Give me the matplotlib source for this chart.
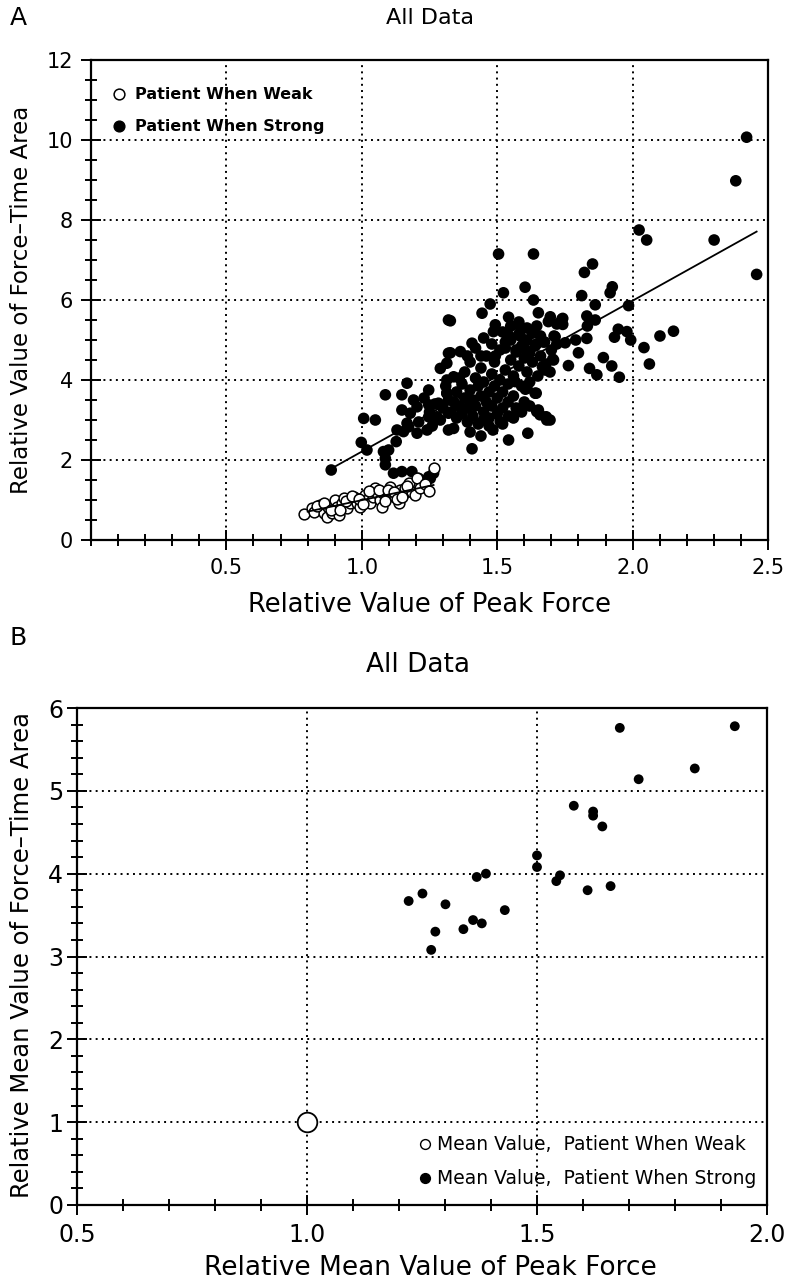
import numpy as np
import matplotlib
matplotlib.use("Agg")
import matplotlib.pyplot as plt
from matplotlib.ticker import MultipleLocator

# ---- panel A: all single trials -------------------------------------- #
weak_x = [0.785, 0.816, 0.825, 0.847, 0.859, 0.872, 0.877, 0.890, 0.902, 0.908,
          0.914, 0.927, 0.933, 0.945, 0.957, 0.970, 0.982, 0.994, 1.000, 1.013,
          1.019, 1.031, 1.043, 1.050, 1.056, 1.068, 1.074, 1.080, 1.093, 1.105,
          1.111, 1.123, 1.136, 1.142, 1.154, 1.160, 1.173, 1.185, 1.204, 1.265,
          0.835, 0.862, 0.885, 0.918, 0.940, 0.962, 0.988, 1.005, 1.025, 1.062,
          1.085, 1.098, 1.118, 1.130, 1.148, 1.168, 1.195, 1.215, 1.232, 1.248]
weak_y = [0.64, 0.79, 0.71, 0.88, 0.67, 0.57, 0.83, 0.67, 1.00, 0.83,
          0.63, 0.92, 1.04, 0.79, 0.92, 1.08, 0.92, 0.83, 1.04, 1.12,
          1.00, 0.92, 1.08, 1.29, 1.17, 1.00, 0.83, 1.17, 1.08, 1.33,
          1.17, 1.08, 0.92, 1.25, 1.17, 1.29, 1.42, 1.21, 1.54, 1.79,
          0.86, 0.93, 0.76, 0.74, 0.98, 1.10, 1.02, 0.90, 1.22, 1.26,
          0.98, 1.24, 1.20, 1.03, 1.08, 1.34, 1.12, 1.30, 1.40, 1.22]

strong_x = [0.887, 0.998, 1.019, 1.007, 1.050, 1.087, 1.080, 1.099, 1.087, 1.087,
            1.117, 1.148, 1.185, 1.247, 1.127, 1.130, 1.148, 1.167, 1.148, 1.179,
            1.191, 1.204, 1.154, 1.173, 1.204, 1.241, 1.247, 1.247, 1.278, 1.290,
            1.314, 1.320, 1.320, 1.314, 1.314, 1.283, 1.320, 1.320, 1.247, 1.167,
            1.210, 1.253, 1.265,
            1.505, 1.634, 1.523, 1.603, 1.634, 1.474, 1.444, 1.327, 1.542, 1.652,
            1.493, 1.486, 1.585, 1.646, 1.696, 1.720, 1.407, 1.327, 1.364, 1.542,
            1.585, 1.630, 1.660, 1.710, 1.493, 1.530, 1.570, 1.600, 1.645, 1.675,
            1.440,
            2.421, 2.381, 2.024, 2.052, 2.301, 2.458, 1.822, 1.852, 1.812, 1.917,
            1.925, 1.985, 1.862, 1.831, 1.862, 1.689, 1.739, 1.947, 1.979, 1.993,
            1.933, 2.101, 2.151, 2.042, 2.062, 1.951, 1.923, 1.892, 1.868, 1.841,
            1.763, 1.800, 1.790, 1.831, 1.751, 1.705, 1.677, 1.644, 1.652, 1.681,
            1.604, 1.742, 1.742, 1.833, 1.714, 1.708, 1.695, 1.695,
            1.407, 1.542, 1.613, 1.484, 1.542, 1.646, 1.658, 1.683, 1.640, 1.610,
            1.566, 1.677, 1.667, 1.339, 1.449, 1.511, 1.314, 1.339,
            1.33, 1.34, 1.35, 1.35, 1.36, 1.37, 1.37, 1.38, 1.38, 1.39,
            1.39, 1.40, 1.40, 1.41, 1.41, 1.42, 1.42, 1.43, 1.43, 1.44,
            1.44, 1.45, 1.45, 1.46, 1.46, 1.47, 1.47, 1.48, 1.48, 1.49,
            1.49, 1.50, 1.50, 1.51, 1.51, 1.52, 1.52, 1.53, 1.53, 1.54,
            1.54, 1.55, 1.55, 1.56, 1.56, 1.57, 1.57, 1.58, 1.58, 1.59,
            1.59, 1.60, 1.60, 1.61, 1.61, 1.62, 1.62, 1.63, 1.63, 1.64,
            1.65, 1.66, 1.67, 1.68, 1.70, 1.72, 1.36, 1.39, 1.42, 1.45,
            1.48, 1.52, 1.55, 1.58, 1.61, 1.40, 1.44, 1.47, 1.52, 1.56,
            1.59, 1.62, 1.32, 1.31, 1.30, 1.29, 1.27, 1.25, 1.23, 1.21,
            1.26]
strong_y = [1.75, 2.44, 2.25, 3.04, 3.00, 3.63, 2.21, 2.25, 2.04, 1.88,
            1.67, 1.71, 1.71, 1.58, 2.46, 2.75, 3.63, 3.92, 3.25, 3.17,
            3.50, 3.33, 2.71, 2.83, 2.67, 2.75, 3.75, 3.38, 3.08, 4.29,
            4.42, 4.67, 5.50, 3.67, 4.00, 3.42, 3.17, 2.75, 3.08, 2.92,
            1.54, 1.54, 1.67,
            7.15, 7.15, 6.18, 6.32, 6.00, 5.90, 5.67, 5.48, 5.57, 5.68,
            5.38, 5.21, 5.33, 5.35, 5.58, 5.40, 4.92, 4.68, 4.71, 5.12,
            5.10, 5.17, 5.10, 5.10, 4.60, 4.80, 4.75, 4.80, 4.90, 4.95,
            4.60,
            10.07, 8.98, 7.75, 7.50, 7.50, 6.64, 6.69, 6.90, 6.11, 6.18,
            6.33, 5.86, 5.88, 5.60, 5.50, 5.46, 5.52, 5.27, 5.21, 5.00,
            5.07, 5.10, 5.22, 4.81, 4.40, 4.07, 4.35, 4.56, 4.13, 4.29,
            4.36, 4.68, 5.00, 5.04, 4.93, 4.52, 4.29, 3.67, 3.25, 3.08,
            3.77, 5.54, 5.39, 5.35, 5.08, 4.50, 3.00, 4.20,
            2.28, 2.50, 2.67, 2.75, 3.10, 3.21, 3.13, 3.00, 3.67, 3.79,
            3.96, 4.25, 4.33, 2.79, 3.00, 2.96, 3.67, 4.08,
            3.20, 3.45, 3.05, 3.70, 3.35, 3.90, 3.15, 3.55, 4.20, 3.30,
            2.95, 3.75, 4.45, 3.50, 3.10, 4.05, 3.35, 3.85, 2.90, 3.60,
            4.30, 3.20, 3.95, 3.45, 4.60, 3.70, 3.05, 4.15, 3.35, 3.85,
            4.45, 3.55, 3.15, 4.00, 4.75, 3.70, 3.30, 4.25, 4.95, 3.90,
            3.45, 4.50, 5.00, 4.10, 3.60, 4.70, 3.30, 4.35, 5.15, 3.85,
            4.85, 4.55, 3.45, 5.00, 4.20, 4.70, 3.95, 4.45, 5.20, 4.85,
            4.10, 4.60, 4.95, 4.40, 4.75, 4.90, 4.05, 4.60, 4.80, 5.05,
            4.90, 5.20, 5.35, 5.45, 5.30, 2.70, 2.60, 2.85, 2.90, 3.05,
            3.20, 3.35, 3.50, 3.85, 3.30, 3.00, 3.40, 3.20, 3.55, 2.95,
            2.85]

# regression lines (end points)
fit_weak_x = [0.800, 1.265]
fit_weak_y = [0.71, 1.375]
fit_strong_x = [0.886, 2.458]
fit_strong_y = [1.78, 7.71]

# ---- panel B: per-patient means ------------------------------------- #
mean_weak_x = [1.0]
mean_weak_y = [1.0]
mean_strong_x = [1.68, 1.93, 1.843, 1.721, 1.580, 1.622, 1.622, 1.642, 1.500, 1.500,
                 1.550, 1.542, 1.610, 1.660, 1.389, 1.369, 1.221, 1.251, 1.301, 1.430,
                 1.361, 1.380, 1.340, 1.279, 1.270]
mean_strong_y = [5.76, 5.78, 5.27, 5.14, 4.82, 4.75, 4.70, 4.57, 4.22, 4.08,
                 3.98, 3.91, 3.80, 3.85, 4.00, 3.96, 3.67, 3.76, 3.63, 3.56,
                 3.44, 3.40, 3.33, 3.30, 3.08]

W, H = 786, 1287
grid_kw = dict(color="black", ls=(0, (1, 2.2)), lw=1.4)


def style_axes(ax, labelsize):
    for s in ax.spines.values():
        s.set_linewidth(1.6)
    ax.tick_params(which="both", direction="inout", top=False, right=False,
                   labelsize=labelsize, width=1.4, pad=6)
    ax.tick_params(which="major", length=14)
    ax.tick_params(which="minor", length=9)
    ax.grid(True, which="major", **grid_kw)
    ax.set_axisbelow(False)


fig = plt.figure(figsize=(W / 100, H / 100), dpi=100)

# ---- A --------------------------------------------------------------- #
ax1 = fig.add_axes([91 / W, 1 - 540 / H, (768 - 91) / W, (540 - 60) / H])
ax1.scatter(strong_x, strong_y, s=70, c="black", edgecolors="none", zorder=3)
ax1.scatter(weak_x, weak_y, s=60, facecolors="white", edgecolors="black",
            linewidths=1.1, zorder=4)
ax1.plot(fit_strong_x, fit_strong_y, color="black", lw=1.3, zorder=5)
ax1.plot(fit_weak_x, fit_weak_y, color="black", lw=1.3, zorder=5)
ax1.set_xlim(0, 2.5)
ax1.set_ylim(0, 12)
ax1.set_xticks([0.5, 1.0, 1.5, 2.0, 2.5])
ax1.set_xticklabels(["0.5", "1.0", "1.5", "2.0", "2.5"])
ax1.xaxis.set_minor_locator(MultipleLocator(0.1))
ax1.set_yticks(range(0, 13, 2))
ax1.yaxis.set_minor_locator(MultipleLocator(0.5))
style_axes(ax1, 15)

ax1.scatter([0.042], [0.929], s=60, facecolors="white", edgecolors="black",
            linewidths=1.1, transform=ax1.transAxes, clip_on=False, zorder=6)
ax1.scatter([0.042], [0.862], s=60, c="black", transform=ax1.transAxes,
            clip_on=False, zorder=6)
ax1.text(0.065, 0.929, "Patient When Weak", transform=ax1.transAxes,
         fontsize=11.5, va="center", fontweight="bold")
ax1.text(0.065, 0.862, "Patient When Strong", transform=ax1.transAxes,
         fontsize=11.5, va="center", fontweight="bold")

fig.text(10 / W, 1 - 18 / H, "A", fontsize=18, va="center", ha="left")
fig.text(430 / W, 1 - 18 / H, "All Data", fontsize=16, va="center", ha="center")
fig.text(430 / W, 1 - 605 / H, "Relative Value of Peak Force", fontsize=18.5,
         va="center", ha="center")
fig.text(22 / W, 1 - 300 / H, "Relative Value of Force\u2013Time Area", fontsize=16.5,
         va="center", ha="center", rotation=90)

# ---- B --------------------------------------------------------------- #
ax2 = fig.add_axes([77 / W, 1 - 1205 / H, (767 - 77) / W, (1205 - 708) / H])
ax2.scatter(mean_strong_x, mean_strong_y, s=50, c="black", edgecolors="none", zorder=3)
ax2.scatter(mean_weak_x, mean_weak_y, s=200, facecolors="white", edgecolors="black",
            linewidths=1.3, zorder=4)
ax2.set_xlim(0.5, 2.0)
ax2.set_ylim(0, 6)
ax2.set_xticks([0.5, 1.0, 1.5, 2.0])
ax2.set_xticklabels(["0.5", "1.0", "1.5", "2.0"])
ax2.xaxis.set_minor_locator(MultipleLocator(0.1))
ax2.set_yticks(range(0, 7))
ax2.yaxis.set_minor_locator(MultipleLocator(0.2))
style_axes(ax2, 17)
ax2.tick_params(axis="y", which="major", pad=3)

ax2.scatter([0.504], [0.122], s=50, facecolors="white", edgecolors="black",
            linewidths=1.0, transform=ax2.transAxes, clip_on=False, zorder=6)
ax2.scatter([0.504], [0.054], s=50, c="black", transform=ax2.transAxes,
            clip_on=False, zorder=6)
ax2.text(0.522, 0.122, "Mean Value,  Patient When Weak", transform=ax2.transAxes,
         fontsize=13.5, va="center")
ax2.text(0.522, 0.054, "Mean Value,  Patient When Strong", transform=ax2.transAxes,
         fontsize=13.5, va="center")

fig.text(10 / W, 1 - 638 / H, "B", fontsize=18, va="center", ha="left")
fig.text(418 / W, 1 - 665 / H, "All Data", fontsize=19, va="center", ha="center")
fig.text(430 / W, 1 - 1268 / H, "Relative Mean Value of Peak Force", fontsize=19,
         va="center", ha="center")
fig.text(22 / W, 1 - 955 / H, "Relative Mean Value of Force\u2013Time Area",
         fontsize=17.5, va="center", ha="center", rotation=90)

fig.savefig("out.png", dpi=100)
plt.close(fig)
